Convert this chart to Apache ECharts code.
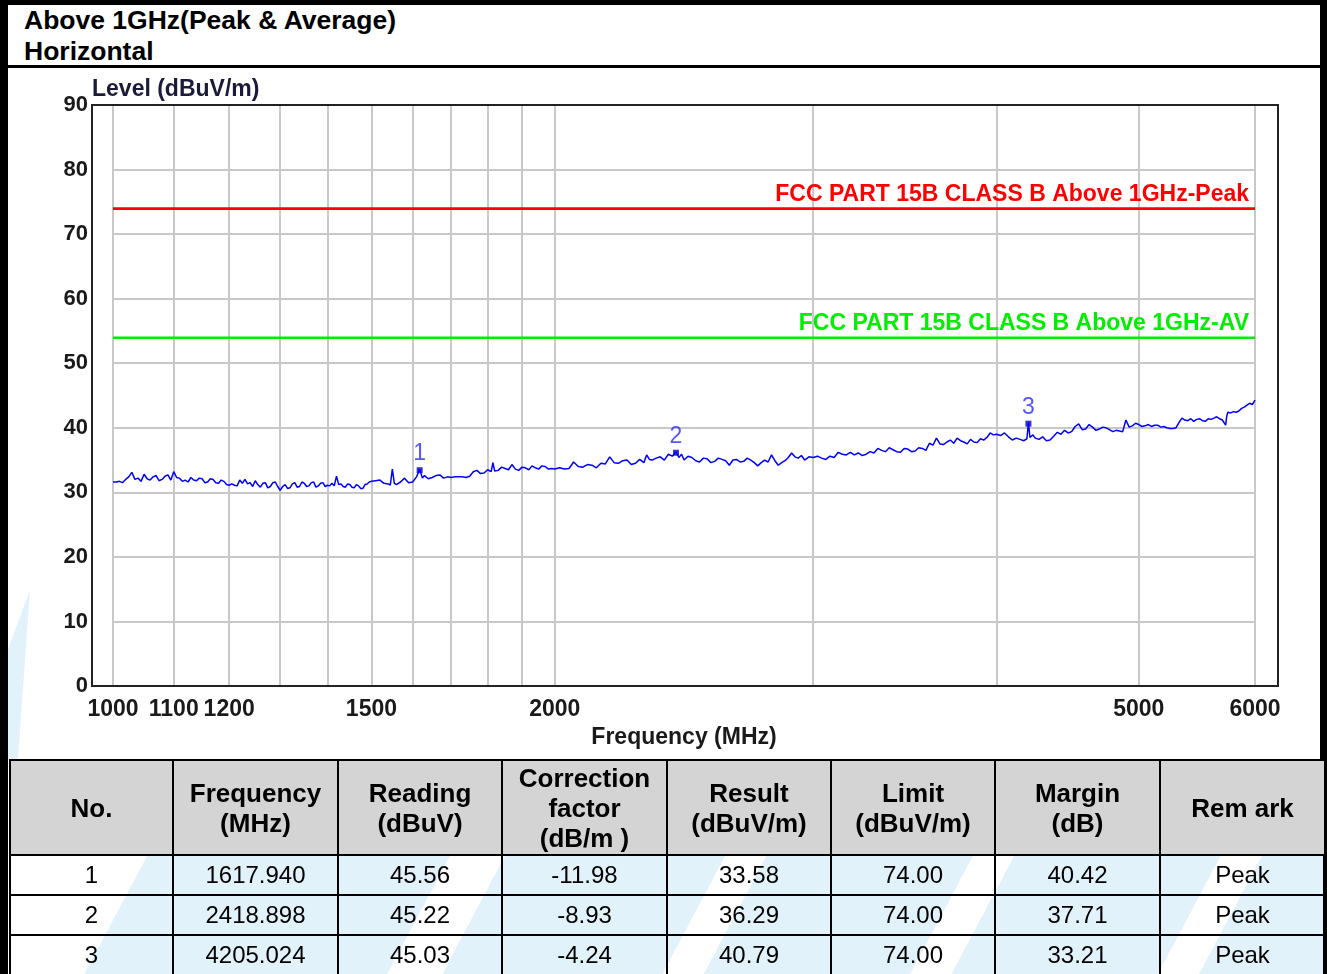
<!DOCTYPE html>
<html>
<head>
<meta charset="utf-8">
<script src="https://cdn.jsdelivr.net/npm/echarts@6/dist/echarts.min.js"></script>
<style>
  body { margin: 0; background: #fff; }
  #page { position: relative; width: 1327px; height: 974px; overflow: hidden; background: #fff;
          font-family: "Liberation Sans", Arial, sans-serif; }
  #frame { position: absolute; left: 0; top: 0; width: 1312px; height: 974px;
           border-left: 8px solid #000; border-top: 5px solid #000; border-right: 7px solid #000; }
  .ttl { position: absolute; left: 24px; font-weight: bold; font-size: 26.5px; color: #000; }
  #sep { position: absolute; left: 8px; top: 65px; width: 1312px; height: 3px; background: #000; }
  #chart { position: absolute; left: 0; top: 0; width: 1327px; height: 760px; }
  #swoosh { position: absolute; left: 8px; top: 590px; width: 22px; height: 170px; background: #e2f2fb;
            clip-path: polygon(0 100%, 0 35%, 100% 0, 45% 100%); }
  #wm { position: absolute; left: 10px; top: 855px; width: 1313px; height: 119px;
        background: linear-gradient(118deg, #fff 0 10%, #e2f2fb 10% 32%, #fff 32% 36%, #e2f2fb 36% 52%,
                    #fff 52% 55%, #e2f2fb 55% 70%, #fff 70% 73%, #e2f2fb 73% 88%, #fff 88% 91%, #e2f2fb 91% 100%); }
  #tbl { position: absolute; left: 9px; top: 759px; border-collapse: collapse; table-layout: fixed; width: 1315px; }
  #tbl th, #tbl td { border: 2px solid #000; text-align: center; padding: 0; color: #000; }
  #tbl th { background: #d4d4d4; height: 93px; font-size: 26px; font-weight: bold; line-height: 30px; }
  #tbl td { height: 38px; font-size: 24px; background: transparent; }
</style>
</head>
<body>
<div id="page">
  <div id="frame"></div>
  <div class="ttl" style="top:5px">Above 1GHz(Peak &amp; Average)</div>
  <div class="ttl" style="top:36px">Horizontal</div>
  <div id="sep"></div>
  <div id="swoosh"></div>
  <div id="chart"></div>
  <div id="wm"></div>
  <table id="tbl">
    <colgroup>
      <col style="width:163px"><col style="width:165px"><col style="width:164px"><col style="width:165px">
      <col style="width:164px"><col style="width:164px"><col style="width:165px"><col style="width:165px">
    </colgroup>
    <thead><tr id="head"></tr></thead>
    <tbody id="body"></tbody>
  </table>
</div>
<script>
var freq = [
  1000, 1005, 1010, 1015, 1020, 1025, 1030, 1035, 1040, 1045,
  1050, 1055, 1060, 1065, 1070, 1075, 1080, 1085, 1090, 1095,
  1100, 1105, 1110, 1115, 1120, 1125, 1130, 1135, 1140, 1145,
  1150, 1155, 1160, 1165, 1170, 1175, 1180, 1185, 1190, 1195,
  1200, 1205, 1210, 1215, 1220, 1225, 1230, 1235, 1240, 1245,
  1250, 1255, 1260, 1265, 1270, 1275, 1280, 1285, 1290, 1295,
  1300, 1305, 1310, 1315, 1320, 1325, 1330, 1335, 1340, 1345,
  1350, 1355, 1360, 1365, 1370, 1375, 1380, 1385, 1390, 1395,
  1400, 1405, 1410, 1415, 1420, 1425, 1430, 1435, 1440, 1445,
  1450, 1455, 1460, 1465, 1470, 1475, 1480, 1485, 1490, 1495,
  1500, 1510, 1520, 1530, 1540, 1545, 1550, 1555, 1560, 1570,
  1580, 1590, 1600, 1605, 1610, 1617.94, 1625, 1630, 1640, 1650,
  1660, 1670, 1680, 1690, 1700, 1710, 1720, 1730, 1740, 1750,
  1760, 1770, 1780, 1790, 1800, 1810, 1815, 1820, 1830, 1840,
  1850, 1860, 1870, 1880, 1890, 1900, 1910, 1920, 1930, 1940,
  1950, 1960, 1970, 1980, 1990, 2000, 2015, 2030, 2045, 2060,
  2075, 2090, 2105, 2120, 2135, 2150, 2165, 2180, 2195, 2210,
  2225, 2240, 2255, 2270, 2285, 2300, 2310, 2320, 2330, 2345,
  2360, 2375, 2390, 2405, 2418.898, 2430, 2440, 2450, 2465, 2480,
  2495, 2510, 2525, 2540, 2555, 2570, 2585, 2600, 2615, 2630,
  2645, 2660, 2675, 2690, 2705, 2720, 2735, 2750, 2765, 2780,
  2795, 2810, 2825, 2840, 2855, 2870, 2885, 2900, 2915, 2930,
  2945, 2960, 2980, 3000, 3020, 3040, 3060, 3080, 3100, 3120,
  3140, 3160, 3180, 3200, 3220, 3240, 3260, 3280, 3300, 3320,
  3340, 3360, 3380, 3400, 3420, 3440, 3460, 3480, 3500, 3520,
  3540, 3560, 3580, 3600, 3620, 3640, 3660, 3680, 3700, 3720,
  3740, 3760, 3780, 3800, 3820, 3840, 3860, 3880, 3900, 3920,
  3940, 3960, 3980, 4000, 4025, 4050, 4075, 4100, 4125, 4150,
  4175, 4195, 4205.024, 4215, 4235, 4250, 4275, 4300, 4325, 4350,
  4375, 4400, 4425, 4450, 4475, 4500, 4525, 4550, 4575, 4600,
  4625, 4650, 4675, 4700, 4725, 4750, 4775, 4800, 4825, 4850,
  4875, 4900, 4925, 4950, 4975, 5000, 5025, 5050, 5075, 5100,
  5125, 5150, 5175, 5200, 5225, 5250, 5275, 5300, 5325, 5350,
  5375, 5400, 5425, 5450, 5475, 5500, 5525, 5550, 5575, 5600,
  5625, 5650, 5675, 5700, 5715, 5730, 5740, 5750, 5775, 5800,
  5825, 5850, 5875, 5900, 5925, 5950, 5975, 6000
];
var level = [
  31.6, 31.6, 31.7, 31.5, 32.0, 32.4, 33.1, 32.0, 32.2, 31.7,
  32.8, 32.1, 31.9, 32.4, 32.6, 31.8, 32.0, 32.5, 32.7, 31.9,
  33.2, 32.3, 32.2, 31.7, 31.9, 31.6, 32.3, 31.9, 31.8, 32.2,
  32.1, 31.5, 31.6, 32.1, 32.0, 31.5, 31.4, 31.9, 31.7, 31.2,
  31.1, 31.3, 31.1, 31.0, 31.9, 31.4, 32.0, 31.3, 31.5, 30.9,
  31.8, 31.2, 30.8, 31.4, 31.5, 30.7, 30.9, 31.5, 31.6, 30.9,
  30.3, 30.9, 31.2, 30.6, 30.7, 31.3, 31.5, 30.8, 30.9, 31.6,
  31.4, 30.9, 31.0, 31.5, 31.6, 30.8, 31.0, 31.4, 31.5, 30.9,
  31.1, 31.0, 31.4, 31.0, 32.5, 31.2, 31.3, 30.9, 30.8, 31.3,
  31.2, 30.8, 30.7, 31.2, 31.0, 30.6, 30.6, 31.2, 31.3, 31.6,
  31.7, 31.8, 31.9, 31.4, 31.3, 31.1, 33.6, 31.4, 31.2, 31.6,
  32.2, 31.5, 31.6, 31.4, 32.4, 33.58, 32.2, 32.6, 32.1, 32.3,
  32.6, 32.7, 32.2, 32.4, 32.3, 32.4, 32.4, 32.4, 32.3, 32.5,
  33.2, 33.4, 32.9, 33.0, 33.5, 33.2, 34.6, 33.3, 33.4, 33.9,
  33.7, 33.5, 34.3, 33.6, 33.4, 33.9, 33.8, 33.5, 34.1, 33.8,
  33.6, 34.1, 34.0, 33.6, 33.7, 33.6, 33.8, 33.6, 33.7, 34.7,
  34.0, 33.9, 34.3, 34.2, 33.8, 34.5, 34.4, 35.5, 34.6, 34.5,
  34.9, 35.0, 34.3, 34.5, 35.1, 34.6, 35.8, 35.1, 35.0, 35.3,
  35.5, 35.0, 35.9, 35.6, 36.29, 35.4, 35.9, 35.0, 35.6, 35.4,
  34.9, 34.7, 35.3, 35.2, 34.6, 34.8, 35.3, 35.1, 34.9, 34.2,
  35.0, 35.1, 34.7, 34.8, 35.3, 35.0, 34.6, 34.1, 34.6, 35.0,
  34.7, 35.8, 34.9, 34.2, 34.6, 34.9, 35.4, 36.1, 35.5, 35.3,
  35.7, 35.0, 35.5, 35.4, 35.6, 35.3, 35.1, 35.6, 35.4, 36.2,
  35.9, 35.8, 36.2, 35.8, 36.1, 35.7, 35.9, 36.3, 36.1, 36.8,
  36.5, 36.3, 36.9, 36.6, 36.3, 36.2, 36.8, 36.7, 36.3, 36.4,
  36.9, 36.8, 36.5, 37.6, 37.3, 38.4, 37.5, 37.4, 37.8, 38.1,
  37.6, 38.4, 38.0, 37.8, 37.5, 38.2, 37.8, 37.7, 38.3, 38.1,
  38.5, 39.2, 38.9, 39.0, 38.8, 39.2, 38.6, 38.1, 38.4, 38.2,
  38.0, 38.3, 40.79, 38.5, 38.9, 38.4, 38.2, 38.6, 38.0, 38.1,
  38.7, 39.3, 39.0, 39.6, 39.2, 39.4, 40.2, 40.6, 39.7, 39.8,
  40.5, 40.1, 39.6, 39.8, 40.1, 40.0, 39.7, 39.4, 39.6, 39.5,
  39.4, 41.2, 40.1, 40.3, 40.7, 40.5, 40.2, 40.3, 40.5, 40.2,
  40.4, 40.4, 40.1, 40.2, 40.0, 39.9, 39.9, 40.0, 40.8, 41.5,
  41.2, 41.1, 41.4, 41.0, 41.3, 41.4, 41.1, 41.0, 41.4, 41.3,
  41.5, 41.7, 41.4, 41.2, 41.0, 40.4, 41.8, 42.4, 42.3, 42.5,
  42.4, 42.6, 43.0, 43.2, 43.5, 43.8, 43.6, 44.3
];

var limitFreq = [1000, 6000];
var peakLimit = [74, 74];
var avLimit = [54, 54];

var gridFreq = [1000, 1100, 1200, 1300, 1400, 1500, 1600, 1700, 1800, 1900, 2000, 3000, 4000, 5000, 6000];
var labelFreq = [1000, 1100, 1200, 1500, 2000, 5000, 6000];

var markerNo = ['1', '2', '3'];
var markerFreq = [1617.940, 2418.898, 4205.024];
var reading = [45.56, 45.22, 45.03];
var corrFactor = [-11.98, -8.93, -4.24];
var result = [33.58, 36.29, 40.79];
var limit = [74.00, 74.00, 74.00];
var margin = [40.42, 37.71, 33.21];
var remark = ['Peak', 'Peak', 'Peak'];

var headers = ['No.', 'Frequency<br>(MHz)', 'Reading<br>(dBuV)', 'Correction<br>factor<br>(dB/m )',
               'Result<br>(dBuV/m)', 'Limit<br>(dBuV/m)', 'Margin<br>(dB)', 'Rem ark'];

// table
var headRow = document.getElementById('head');
headers.forEach(function (h) {
  var th = document.createElement('th');
  th.innerHTML = h;
  headRow.appendChild(th);
});
var body = document.getElementById('body');
for (var i = 0; i < markerNo.length; i++) {
  var tr = document.createElement('tr');
  var cells = [markerNo[i], markerFreq[i].toFixed(3), reading[i].toFixed(2), corrFactor[i].toFixed(2),
               result[i].toFixed(2), limit[i].toFixed(2), margin[i].toFixed(2), remark[i]];
  cells.forEach(function (c) {
    var td = document.createElement('td');
    td.textContent = c;
    tr.appendChild(td);
  });
  body.appendChild(tr);
}

var chart = echarts.init(document.getElementById('chart'));
var font = '"Liberation Sans", Arial, sans-serif';

function limitSeries(name, vals, text, color) {
  return {
    name: name, type: 'line', showSymbol: false, symbol: 'none',
    data: vals.map(function (v, i) { return [limitFreq[i], v]; }),
    lineStyle: { color: color, width: 2 },
    markLine: {
      silent: true, symbol: 'none',
      lineStyle: { color: color, width: 2, type: 'solid' },
      data: [{ yAxis: vals[vals.length - 1] }],
      label: {
        show: true, position: 'insideEndTop', distance: [6, 2], formatter: text,
        color: color, fontSize: 23, fontWeight: 'bold', fontFamily: font
      }
    }
  };
}

var option = {
  animation: false,
  backgroundColor: 'transparent',
  grid: { left: 113, right: 72, top: 105, bottom: 74 },
  xAxis: {
    type: 'log',
    logBase: 10,
    min: 1000,
    max: 6000,
    name: 'Frequency (MHz)',
    nameLocation: 'middle',
    nameGap: 32,
    nameTextStyle: { fontSize: 23, fontWeight: 'bold', color: '#1a1a1a', fontFamily: font },
    axisLine: { show: false },
    axisTick: { show: false, customValues: gridFreq },
    minorTick: { show: false },
    axisLabel: {
      customValues: labelFreq,
      hideOverlap: false,
      margin: 12,
      fontSize: 23, fontWeight: 'bold', color: '#1a1a1a', fontFamily: font,
      formatter: function (v) { return String(Math.round(v)); }
    },
    splitLine: { show: true, lineStyle: { color: '#c8c8c8', width: 2 } }
  },
  yAxis: {
    type: 'value',
    min: 0,
    max: 90,
    interval: 10,
    axisLine: { show: false },
    axisTick: { show: false },
    axisLabel: { margin: 25, fontSize: 22, fontWeight: 'bold', color: '#1a1a1a', fontFamily: font },
    splitLine: { show: true, lineStyle: { color: '#c8c8c8', width: 2 } }
  },
  graphic: [
    {
      type: 'rect', z: 100, silent: true,
      shape: { x: 92, y: 105, width: 1186, height: 581 },
      style: { fill: 'none', stroke: '#222', lineWidth: 2 }
    },
    {
      type: 'text', left: 92, top: 78, silent: true,
      style: { text: 'Level (dBuV/m)', fill: '#1a1a3a', font: 'bold 23px ' + font }
    }
  ],
  series: [
    limitSeries('Peak limit', peakLimit, 'FCC PART 15B CLASS B Above 1GHz-Peak', '#ff0000'),
    limitSeries('AV limit', avLimit, 'FCC PART 15B CLASS B Above 1GHz-AV', '#00ee00'),
    {
      name: 'Trace', type: 'line', showSymbol: false, symbol: 'none',
      data: freq.map(function (f, i) { return [f, level[i]]; }),
      lineStyle: { color: '#0000ff', width: 1.5 }
    },
    {
      name: 'Markers', type: 'scatter',
      symbol: 'rect',
      symbolSize: [6, 6],
      symbolOffset: [0, 1],
      itemStyle: { color: '#0000bb' },
      data: markerFreq.map(function (f, i) { return [f, result[i]]; }),
      label: {
        show: true, position: 'top', distance: 2,
        formatter: function (p) { return markerNo[p.dataIndex]; },
        color: '#2b2bff', fontSize: 23, fontFamily: font
      }
    }
  ]
};
chart.setOption(option);
</script>
</body>
</html>
